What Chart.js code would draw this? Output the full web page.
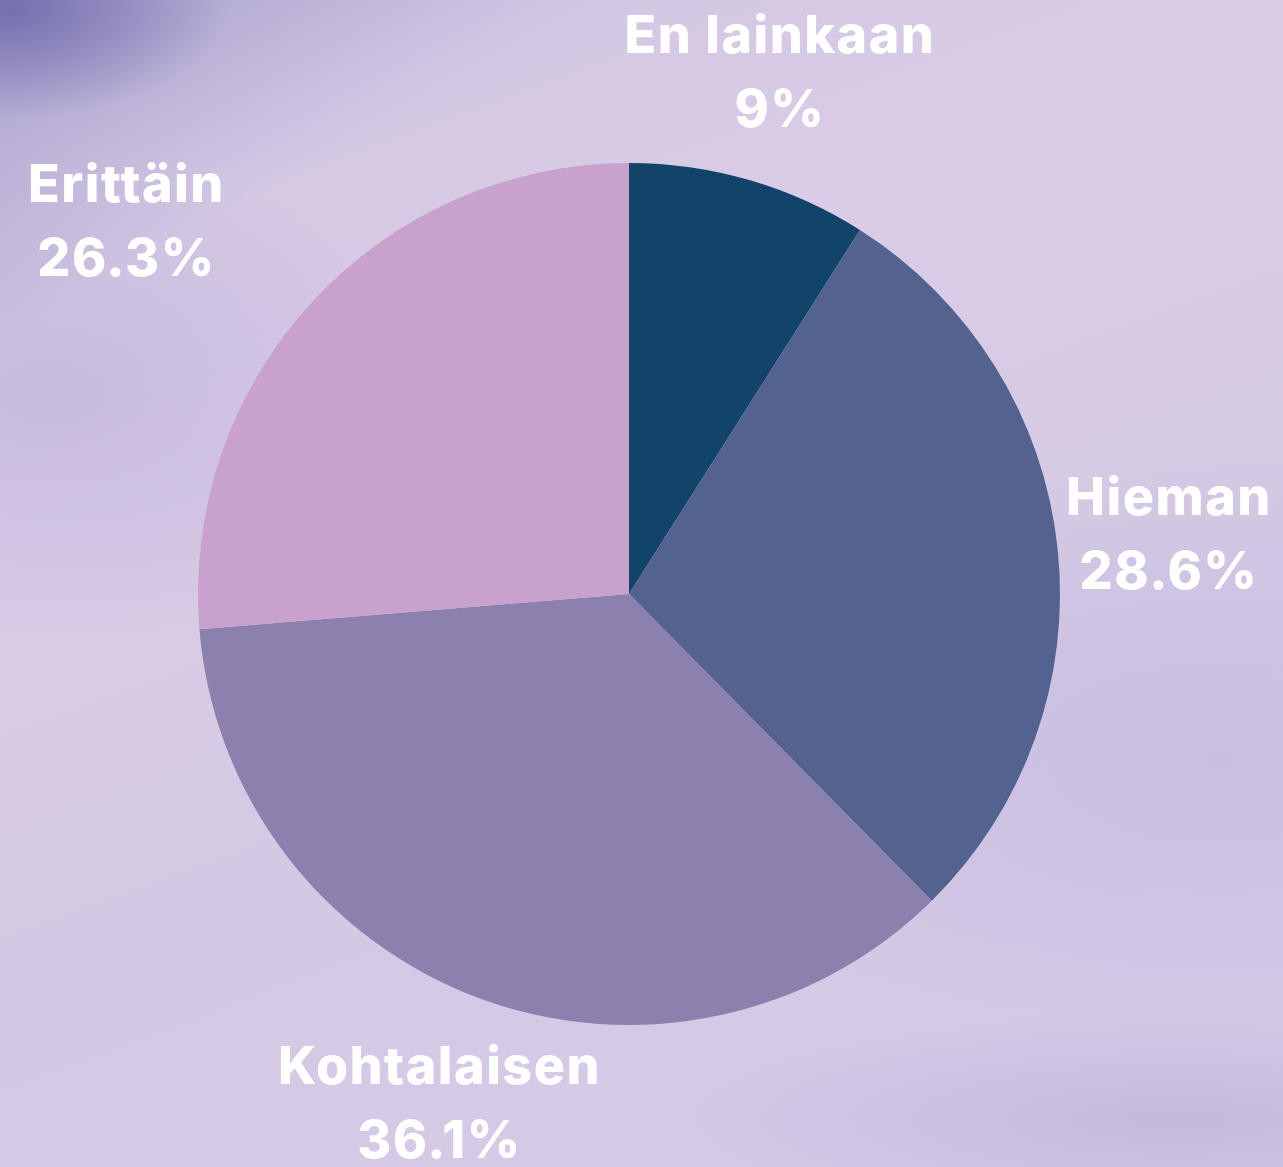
<!DOCTYPE html>
<html>
<head>
<meta charset="utf-8">
<script src="https://cdn.jsdelivr.net/npm/chart.js@4.4.0/dist/chart.umd.min.js"></script>
<style>
  html, body { margin: 0; padding: 0; }
  body {
    width: 1283px;
    height: 1167px;
    overflow: hidden;
    background:
      radial-gradient(ellipse 220px 110px at 10px 10px, rgba(104, 100, 168, 0.8), rgba(104, 100, 168, 0) 100%),
      linear-gradient(150deg, rgba(120, 112, 178, 0.45) 0%, rgba(120, 112, 178, 0) 18%),
      radial-gradient(ellipse 420px 240px at 60px 400px, rgba(165, 154, 204, 0.35), rgba(165, 154, 204, 0) 100%),
      radial-gradient(ellipse 520px 110px at 1180px 1120px, rgba(160, 150, 202, 0.35), rgba(160, 150, 202, 0) 100%),
      radial-gradient(ellipse 600px 300px at 1220px 760px, rgba(185, 176, 218, 0.45), rgba(185, 176, 218, 0) 100%),
      linear-gradient(160deg, #cdc4e0 0%, #dacce7 30%, #d4c9e4 60%, #d7cbe7 100%);
  }
  #wrap { position: absolute; left: 0; top: 0; width: 1283px; height: 1167px; }
</style>
</head>
<body>
<div id="wrap"><canvas id="myChart"></canvas></div>
<script>
const categories = ['En lainkaan', 'Hieman', 'Kohtalaisen', 'Erittäin'];
const shares = [9, 28.6, 36.1, 26.3];
const shareLabels = ['9%', '28.6%', '36.1%', '26.3%'];
const sliceColors = ['#12446a', '#54628f', '#8c80ae', '#c8a2cc'];

// labels sit outside the pie along each slice's middle angle
const labelDistance = [1.255, 1.26, 1.265, 1.27];
const labelShiftX = [0, 0, 0, -100];

const outsideLabels = {
    id: 'outsideLabels',
    afterDraw(chart) {
        const ctx = chart.ctx;
        const meta = chart.getDatasetMeta(0);
        ctx.save();
        ctx.fillStyle = '#ffffff';
        ctx.textAlign = 'center';
        ctx.textBaseline = 'middle';
        ctx.font = '800 52px Inter';
        ctx.letterSpacing = '1.5px';
        meta.data.forEach((arc, i) => {
            const p = arc.getProps(['x', 'y', 'startAngle', 'endAngle', 'outerRadius'], true);
            const mid = (p.startAngle + p.endAngle) / 2;
            const r = p.outerRadius * labelDistance[i];
            const x = p.x + Math.cos(mid) * r + labelShiftX[i];
            const y = p.y + Math.sin(mid) * r;
            ctx.fillText(categories[i], x, y - 37);
            ctx.fillText(shareLabels[i], x, y + 37);
        });
        ctx.restore();
    }
};

const ctx = document.getElementById('myChart').getContext('2d');
new Chart(ctx, {
    type: 'pie',
    data: {
        labels: categories,
        datasets: [{
            data: shares,
            backgroundColor: sliceColors,
            borderWidth: 0
        }]
    },
    options: {
        responsive: true,
        maintainAspectRatio: false,
        animation: false,
        layout: {
            padding: { left: 198, right: 223, top: 163, bottom: 142 }
        },
        plugins: {
            legend: { display: false },
            tooltip: { enabled: false }
        }
    },
    plugins: [outsideLabels]
});
</script>
</body>
</html>
